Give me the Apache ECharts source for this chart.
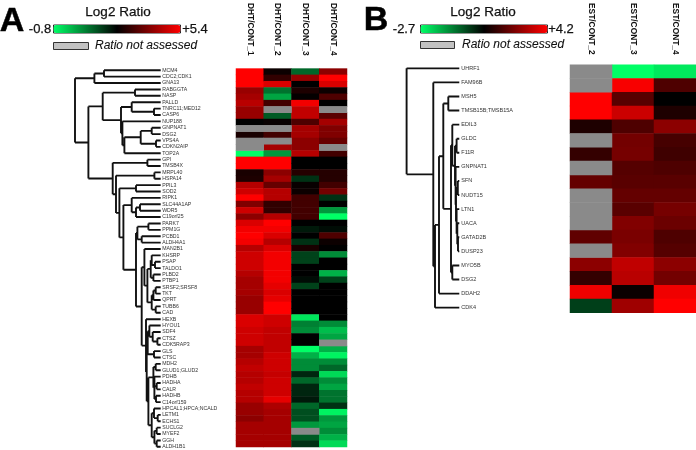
<!DOCTYPE html>
<html>
<head>
<meta charset="utf-8">
<script src="https://cdn.jsdelivr.net/npm/echarts@6/dist/echarts.min.js"></script>
<style>
html,body{margin:0;padding:0;background:#fff;overflow:hidden}
#c{width:696px;height:450px;filter:blur(0.45px)}
</style>
</head>
<body>
<div id="c"></div>
<script>
const samplesA = ['DHT/CONT_1','DHT/CONT_2','DHT/CONT_3','DHT/CONT_4'];
const genesA = ['MCM4','CDC2;CDK1','GNA13','RABGGTA','NASP','PALLD','TNRC11;MED12','CASP6','NUP188','GNPNAT1','DSG2','VPS4A','CDKN2AIP','TOP2A','GPI','TMSB4X','MRPL40','HSPA14','PPIL3','SOD2','RIPK1','SLC44A1AP','WDR5','C19orf25','PARK7','PPM1G','PCBD1','ALDH4A1','MAN2B1','KHSRP','PSAP','TALDO1','PLBD2','PTBP1','SRSF2;SRSF8','TKT','QPRT','TUBB6','CAD','HEXB','HYOU1','SDF4','CTSZ','CDK5RAP3','GLS','CTSC','MDH2','GLUD1;GLUD2','PDHB','HADHA','CALR','HADHB','C14orf159','HPCAL1;HPCA;NCALD','LETM1','ECHS1','SUCLG2','MYEF2','GGH','ALDH1B1'];
const dht1 = [5.4,5.4,5.4,4.15,4.3,4.55,4.15,4.15,2.3,null,2.6,null,null,-0.8,5.4,5.4,2.6,2.65,4.5,4.8,5.4,3.85,4.8,4.0,4.95,5.25,5.4,5.25,4.5,4.8,4.8,4.8,4.5,4.3,4.3,4.3,4.15,4.15,4.15,4.95,4.95,4.8,4.8,4.8,4.3,4.3,4.5,4.65,4.5,4.5,4.65,4.5,4.5,4.15,4.15,4.0,4.3,4.3,4.3,4.3];
const dht2 = [2.45,2.9,4.95,0.9,0.3,3.1,null,1.2,2.4,null,3.1,null,4.3,0.45,5.4,5.4,4.0,4.3,3.55,4.5,4.5,2.9,2.9,4.5,5.4,5.25,4.95,4.5,4.95,5.25,5.25,5.25,5.25,5.25,5.1,4.95,5.1,5.4,5.4,4.8,4.8,4.65,4.65,4.65,4.65,4.8,4.8,4.8,4.7,4.8,4.8,4.8,5.1,4.4,4.3,4.3,4.3,4.3,4.3,4.3];
const dht3 = [1.05,4.15,2.3,2.65,2.35,5.25,4.65,4.65,3.25,4.3,4.3,4.0,4.0,4.5,2.3,2.3,2.75,1.7,2.4,2.45,3.1,3.1,3.1,3.1,2.3,2.0,2.3,1.7,2.6,1.5,1.5,2.3,2.3,2.15,1.5,2.3,2.3,2.3,2.3,-0.5,0.75,0.6,2.3,2.3,-0.8,0.15,0.6,0.6,1.85,1.05,1.85,1.85,2.0,1.05,1.35,1.35,0.45,null,1.2,1.7];
const dht4 = [4.0,5.4,4.95,2.45,3.25,2.3,null,3.4,4.3,3.85,3.85,3.55,null,3.1,2.3,2.3,2.75,2.75,3.1,3.7,1.7,2.3,0.45,-0.8,2.3,2.15,3.25,2.45,2.3,0.6,2.3,2.3,0.15,1.5,2.3,2.3,2.3,2.3,2.3,2.3,0.6,0,0.3,null,0.15,-0.65,0.6,1.05,-0.35,0.6,0.3,0.9,0.9,1.7,-0.65,0.45,0.3,0.6,0.15,-0.35];
const treeA = [85.7,
  [66.3,[56.7,'MCM4','CDC2;CDK1'],'GNA13'],
  [72.3,
    [58,[25.7,'RABGGTA','NASP'],
      [39.7,[29,'PALLD',[6.7,'TNRC11;MED12','CASP6']],
        [38.3,'NUP188',[36.3,[20,[9,'GNPNAT1','DSG2'],[4.7,'VPS4A','CDKN2AIP']],'TOP2A']]]],
    [48,[13.3,'GPI','TMSB4X'],
      [44.7,[6.3,'MRPL40','HSPA14'],
        [41.3,[24.7,'PPIL3','SOD2'],
          [37.3,
            [29,'RIPK1',[24.7,[20.7,'SLC44A1AP','WDR5'],'C19orf25']],
            [24.7,
              [23.3,[12.3,'PARK7','PPM1G'],[19,'PCBD1','ALDH4A1']],
              [19,
                [16.3,'MAN2B1',[13.3,
                  [10,[9,'KHSRP',[5.7,'PSAP','TALDO1']],[7.3,'PLBD2','PTBP1']],
                  [9,[7.3,[5,'SRSF2;SRSF8','TKT'],'QPRT'],[5,'TUBB6','CAD']]]],
                [14.7,'HEXB',[14,
                  [13,[11.3,'HYOU1',[8,'SDF4',[3.3,'CTSZ','CDK5RAP3']]],[6.7,'GLS','CTSC']],
                  [12.3,
                    [7.3,[5,'MDH2','GLUD1;GLUD2'],[6.3,'PDHB',[4,'HADHA','CALR'],[4.7,'HADHB','C14orf159']]],
                    [9,[6.7,'HPCAL1;HPCA;NCALD',[3,'LETM1','ECHS1']],[6.3,[4,'SUCLG2','MYEF2'],[4,'GGH','ALDH1B1']]]]]]]]]]]]]];

const samplesB = ['EST/CONT_2','EST/CONT_3','EST/CONT_4'];
const genesB = ['UHRF1','FAM96B','MSH5','TMSB15B;TMSB15A','EDIL3','GLDC','F11R','GNPNAT1','SFN','NUDT15','LTN1','UACA','GATAD2B','DUSP23','MYO5B','DSG2','DDAH2','CDK4'];
const est2 = [null,null,4.2,4.2,1.15,null,1.45,null,2.1,null,null,null,2.05,null,2.65,1.45,4.0,-0.1];
const est3 = [-2.7,4.1,1.95,3.5,1.8,2.3,2.35,1.9,1.95,2.1,1.95,2.5,2.4,2.5,3.35,3.25,0.9,2.9];
const est4 = [-2.4,1.8,0.75,1.15,2.65,1.7,1.6,1.8,1.95,2.1,2.35,2.2,1.8,1.9,2.65,2.3,4.0,4.2];
const treeB = [52.7,'UHRF1',
  [26,'FAM96B',
    [24.3,
      [20.3,
        [16,[11,'MSH5','TMSB15B;TMSB15A'],
          [8.3,
            [7,'EDIL3',[4.3,[2.7,'GLDC','F11R'],[3.7,'GNPNAT1',[3.3,[1.5,'SFN','NUDT15'],[2.7,'LTN1',[2,'UACA',[1.3,'GATAD2B','DUSP23']]]]]]],
            [7,'MYO5B','DSG2']]],
        'DDAH2'],
      'CDK4']]];

const RED = '#ff0000', BLACK = '#000000', GREEN = '#00ff66', GREY = '#8a8a8a';
const FONT = '"Liberation Sans", Arial, sans-serif';

function cells(cols) {
  const vals = [], missing = [];
  cols.forEach((col, x) => col.forEach((v, y) => {
    if (v === null) missing.push([x, y, 1]); else vals.push([x, y, v]);
  }));
  return { vals, missing };
}
function branches(tree, genes) {
  const pts = [];
  (function walk(n) {
    if (typeof n === 'string') { const i = genes.indexOf(n); return { h: 0, y: i }; }
    const kids = n.slice(1).map(walk);
    const y = (kids[0].y + kids[kids.length - 1].y) / 2;
    kids.forEach(k => pts.push([k.h, k.y], [n[0], k.y], ['-', '-']));
    pts.push([n[0], kids[0].y], [n[0], kids[kids.length - 1].y], ['-', '-']);
    return { h: n[0], y };
  })(tree);
  return pts;
}

const A = cells([dht1, dht2, dht3, dht4]);
const B = cells([est2, est3, est4]);
const none = { show: false };

function txt(x, y, s, size, extra) {
  return { type: 'text', x, y, style: Object.assign({ text: s, font: size + 'px ' + FONT, fill: '#111', stroke: '#111', lineWidth: 0.25, align: 'center', verticalAlign: 'middle' }, extra || {}) };
}
function swatch(x, y, w, h) {
  return { type: 'rect', shape: { x, y, width: w, height: h }, style: { fill: '#c2c2c2', stroke: '#333', lineWidth: 1 } };
}

const option = {
  animation: false,
  backgroundColor: '#fff',
  grid: [
    { left: 236, top: 66, width: 111, height: 381 },
    { left: 60, top: 67.1, width: 100.7, height: 382.9 },
    { left: 570, top: 62.3, width: 126, height: 250.4 },
    { left: 400, top: 61.3, width: 59.3, height: 253.4 }
  ],
  xAxis: [
    { type: 'category', gridIndex: 0, position: 'top', data: samplesA, axisLine: none, axisTick: none, splitLine: none,
      axisLabel: { rotate: 90, margin: 13, fontSize: 8.4, fontWeight: 'bold', color: '#111', fontFamily: FONT } },
    { type: 'value', gridIndex: 1, inverse: true, min: 0, max: 100.7, show: false },
    { type: 'category', gridIndex: 2, position: 'top', data: samplesB, axisLine: none, axisTick: none, splitLine: none,
      axisLabel: { rotate: 90, margin: 10, fontSize: 8.4, fontWeight: 'bold', color: '#111', fontFamily: FONT } },
    { type: 'value', gridIndex: 3, inverse: true, min: 0, max: 59.3, show: false }
  ],
  yAxis: [
    { type: 'category', gridIndex: 0, inverse: true, data: genesA, show: false },
    { type: 'category', gridIndex: 1, inverse: true, position: 'right', data: genesA, axisLine: none, axisTick: none, splitLine: none,
      axisLabel: { interval: 0, margin: 1.5, fontSize: 5.2, color: '#333', fontFamily: FONT, align: 'left' } },
    { type: 'value', gridIndex: 1, inverse: true, min: -0.5, max: genesA.length - 0.5, show: false },
    { type: 'category', gridIndex: 2, inverse: true, data: genesB, show: false },
    { type: 'category', gridIndex: 3, inverse: true, position: 'right', data: genesB, axisLine: none, axisTick: none, splitLine: none,
      axisLabel: { interval: 0, margin: 2, fontSize: 5.5, color: '#333', fontFamily: FONT, align: 'left' } },
    { type: 'value', gridIndex: 3, inverse: true, min: -0.5, max: genesB.length - 0.5, show: false }
  ],
  visualMap: [
    { type: 'continuous', seriesIndex: 0, min: -0.8, max: 5.4, calculable: false, hoverLink: false, orient: 'horizontal',
      left: 53, top: 24.5, itemWidth: 8, itemHeight: 127, padding: 0, text: null, borderColor: '#222', borderWidth: 1,
      inRange: { color: [GREEN, BLACK, RED] } },
    { type: 'continuous', seriesIndex: 3, min: -2.7, max: 4.2, calculable: false, hoverLink: false, orient: 'horizontal',
      left: 420, top: 24.5, itemWidth: 8, itemHeight: 127, padding: 0, text: null, borderColor: '#222', borderWidth: 1,
      inRange: { color: [GREEN, BLACK, RED] } }
  ],
  series: [
    { type: 'heatmap', xAxisIndex: 0, yAxisIndex: 0, data: A.vals, progressive: 0 },
    { type: 'heatmap', xAxisIndex: 0, yAxisIndex: 0, data: A.missing, itemStyle: { color: GREY } },
    { type: 'line', xAxisIndex: 1, yAxisIndex: 2, data: branches(treeA, genesA), showSymbol: false, connectNulls: false,
      lineStyle: { color: '#111', width: 1.9 }, silent: true },
    { type: 'heatmap', xAxisIndex: 2, yAxisIndex: 3, data: B.vals, progressive: 0 },
    { type: 'heatmap', xAxisIndex: 2, yAxisIndex: 3, data: B.missing, itemStyle: { color: GREY } },
    { type: 'line', xAxisIndex: 3, yAxisIndex: 5, data: branches(treeB, genesB), showSymbol: false, connectNulls: false,
      lineStyle: { color: '#111', width: 1.9 }, silent: true }
  ],
  graphic: [
    txt(12, 22, 'A', 34, { font: 'bold 34px ' + FONT, fill: '#000', stroke: '#000', lineWidth: 0.5 }),
    txt(118, 12, 'Log2 Ratio', 13.5),
    txt(40, 29, '-0.8', 13),
    txt(195, 29, '+5.4', 13),
    swatch(53.5, 42.5, 35, 7),
    txt(95, 46, 'Ratio not assessed', 12, { font: 'italic 12px ' + FONT, align: 'left', lineWidth: 0.1 }),
    txt(376, 21, 'B', 34, { font: 'bold 34px ' + FONT, fill: '#000', stroke: '#000', lineWidth: 0.5 }),
    txt(483, 12, 'Log2 Ratio', 13.5),
    txt(404, 29, '-2.7', 13),
    txt(561, 29, '+4.2', 13),
    swatch(420.5, 41.5, 34, 7),
    txt(462, 45, 'Ratio not assessed', 12, { font: 'italic 12px ' + FONT, align: 'left', lineWidth: 0.1 })
  ]
};
echarts.init(document.getElementById('c'), null, { renderer: 'canvas' }).setOption(option);
</script>
</body>
</html>
